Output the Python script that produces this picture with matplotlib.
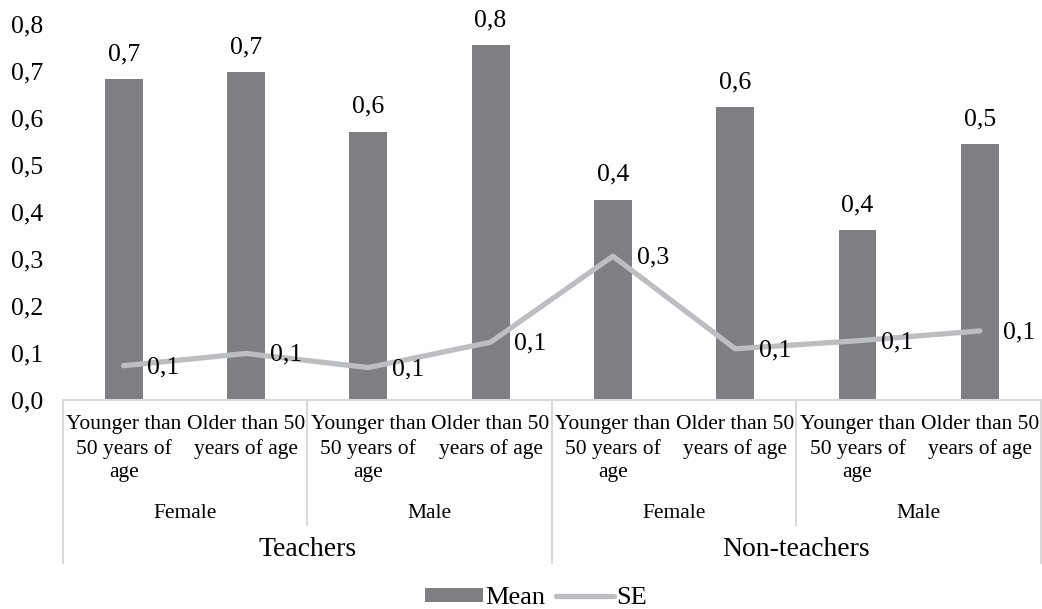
import numpy as np
import matplotlib
matplotlib.use("Agg")
import matplotlib.pyplot as plt
from matplotlib.lines import Line2D

plt.rcParams['font.family'] = ['Liberation Serif', 'DejaVu Serif']

# data
age_labels = ["Younger than\n50 years of\nage", "Older than 50\nyears of age"] * 4
gender_labels = ["Female", "Male", "Female", "Male"]
group_labels = ["Teachers", "Non-teachers"]
mean_vals = [0.682, 0.698, 0.571, 0.755, 0.426, 0.623, 0.361, 0.545]
se_vals = [0.073, 0.099, 0.069, 0.123, 0.306, 0.109, 0.126, 0.147]

bar_col = "#7f7f83"
se_col = "#bdbec1"
line_col = "#d9d9d9"

W, H = 1042, 609
fig = plt.figure(figsize=(W / 100, H / 100), dpi=100)
ax_left, ax_right, ax_top, ax_bot = 62.5, 1041, 24, 400
ax = fig.add_axes([ax_left / W, 1 - ax_bot / H, (ax_right - ax_left) / W, (ax_bot - ax_top) / H])

x = np.arange(len(mean_vals))
bars = ax.bar(x, mean_vals, width=0.31, color=bar_col, label="Mean", zorder=2)
se_line, = ax.plot(x, se_vals, color=se_col, lw=3.8, solid_capstyle="round", label="SE", zorder=3)

ax.set_xlim(-0.5, len(mean_vals) - 0.5)
ax.set_ylim(0, 0.8)
ax.set_yticks(np.arange(0, 0.81, 0.1))
ax.set_yticklabels([f"{v:.1f}".replace(".", ",") for v in np.arange(0, 0.81, 0.1)], fontsize=18.5)
ax.tick_params(axis="y", length=0, pad=14)
ax.set_xticks([])
for s in ["top", "right", "left"]:
    ax.spines[s].set_visible(False)
ax.spines["bottom"].set_color(line_col)
ax.spines["bottom"].set_linewidth(1.5)

# data labels
for i, v in enumerate(mean_vals):
    ax.annotate(f"{v:.1f}".replace(".", ","), (i, v), xytext=(0, 10), textcoords="offset points",
                ha="center", va="bottom", fontsize=18.5)
for i, v in enumerate(se_vals):
    ax.annotate(f"{v:.1f}".replace(".", ","), (i, v), xytext=(17, -1), textcoords="offset points",
                ha="left", va="center", fontsize=18.5)

# multi-level category axis
tr = ax.get_xaxis_transform()
def fy(ypix):
    return -(ypix - ax_bot) / (ax_bot - ax_top)

for i, lab in enumerate(age_labels):
    ax.text(i, fy(415), lab, transform=tr, ha="center", va="top", fontsize=15.5,
            linespacing=1.32, clip_on=False)
for j, lab in enumerate(gender_labels):
    ax.text(2 * j + 0.5, fy(513), lab, transform=tr, ha="center", va="center", fontsize=15.5, clip_on=False)
for k, lab in enumerate(group_labels):
    ax.text(4 * k + 1.5, fy(549), lab, transform=tr, ha="center", va="center", fontsize=20, clip_on=False)

for xd in [1.5, 5.5]:
    ax.add_line(Line2D([xd, xd], [0, fy(525)], transform=tr, color=line_col, lw=1.5, clip_on=False))
for xd in [-0.5, 3.5, 7.5]:
    ax.add_line(Line2D([xd, xd], [0, fy(563)], transform=tr, color=line_col, lw=1.5, clip_on=False))

fig.legend(handles=[bars, se_line], loc="center", bbox_to_anchor=(536 / W, 1 - 598 / H), ncol=2,
           frameon=False, fontsize=19, handlelength=2.2, handleheight=0.45, handletextpad=0.1,
           columnspacing=0.4)

fig.savefig("out.png", dpi=100)
